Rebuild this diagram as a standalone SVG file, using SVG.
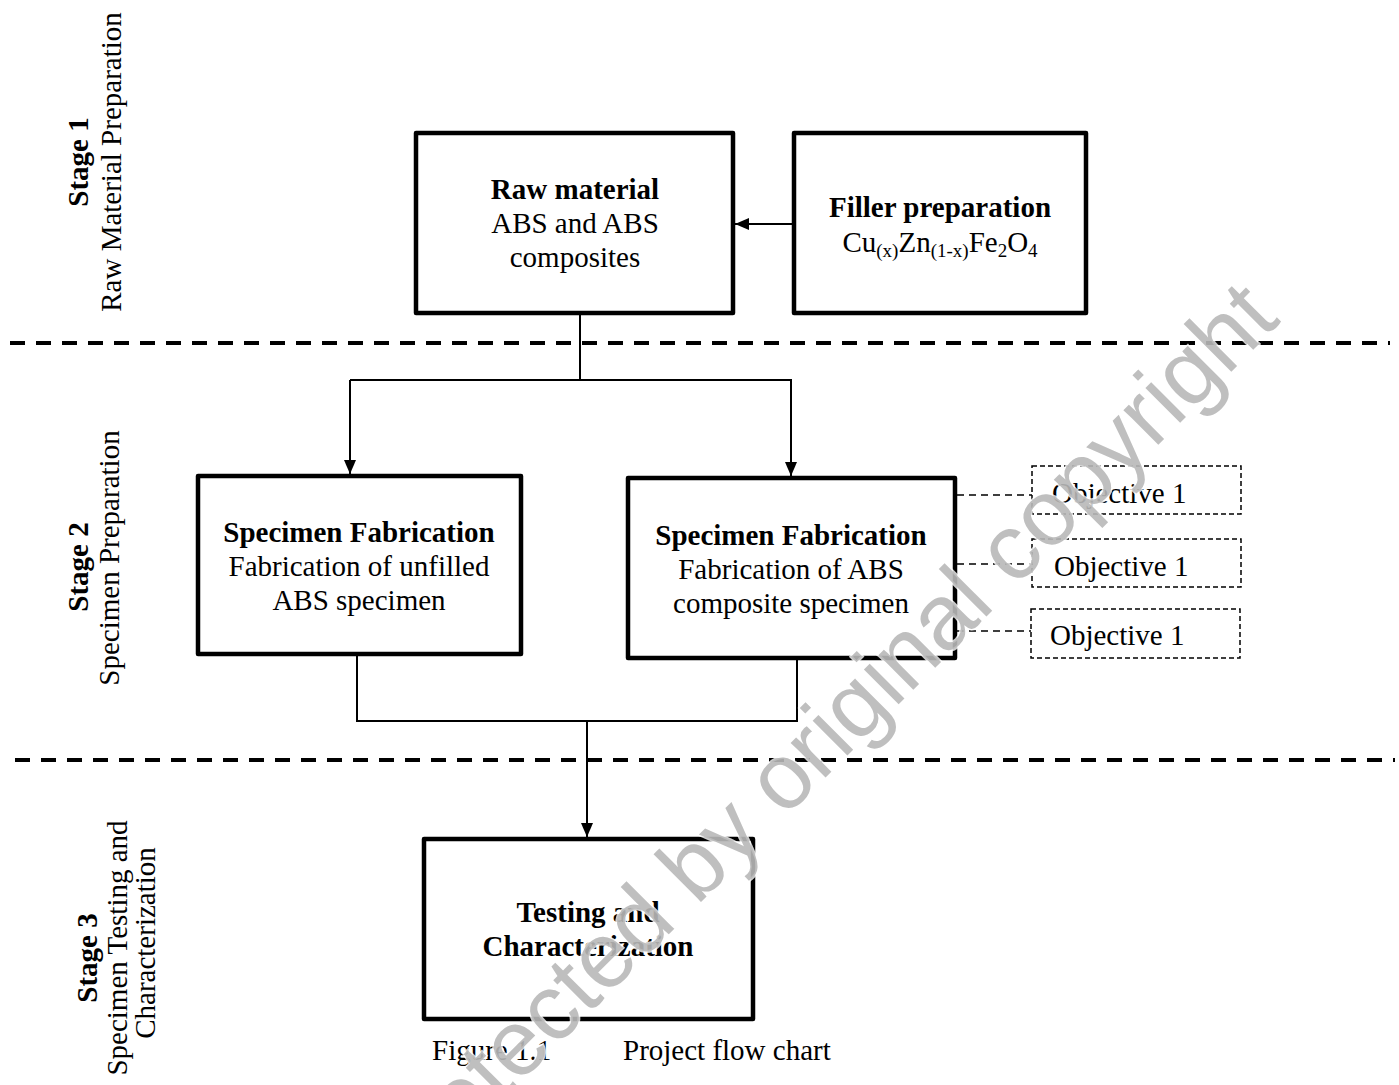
<svg xmlns="http://www.w3.org/2000/svg" width="1399" height="1085" viewBox="0 0 1399 1085">
<style>
text{font-family:"Liberation Serif","Times New Roman",serif;font-size:29px;fill:#000}
.b{font-weight:bold}
.box{fill:#fff;stroke:#000;stroke-width:4.5;stroke-linejoin:round}
.obj{fill:#fff;stroke:#000;stroke-width:1.5;stroke-dasharray:5 3}
.con{fill:none;stroke:#000;stroke-width:2}
.dcon{fill:none;stroke:#000;stroke-width:1.5;stroke-dasharray:7 5}
.sep{fill:none;stroke:#000;stroke-width:4;stroke-dasharray:15 11}
.sub{font-size:19px}
.wm{font-family:"Liberation Sans",Arial,sans-serif;font-size:93px;fill:#b8b8b8;fill-opacity:0.9;stroke:#fff;stroke-width:3;stroke-opacity:0.8;paint-order:stroke}
</style>
<defs>
<marker id="ah" viewBox="0 0 14 12" refX="14" refY="6" markerWidth="14" markerHeight="12" markerUnits="userSpaceOnUse" orient="auto">
<path d="M0,0 L14,6 L0,12 Z" fill="#000"/>
</marker>
</defs>
<rect width="1399" height="1085" fill="#fff"/>

<g id="separators">
<line class="sep" x1="10" y1="343" x2="1390" y2="343"/>
<line class="sep" x1="15" y1="760" x2="1395" y2="760"/>
</g>

<g id="stage-labels">
<text class="b" text-anchor="middle" transform="translate(88,162) rotate(-90)">Stage 1</text>
<text text-anchor="middle" transform="translate(121,162) rotate(-90)">Raw Material Preparation</text>
<text class="b" text-anchor="middle" transform="translate(88,567) rotate(-90)">Stage 2</text>
<text text-anchor="middle" transform="translate(119,558) rotate(-90)">Specimen  Preparation</text>
<text class="b" text-anchor="middle" transform="translate(97,958) rotate(-90)">Stage 3</text>
<text text-anchor="middle" transform="translate(127,948) rotate(-90)">Specimen Testing and</text>
<text text-anchor="middle" transform="translate(155,943) rotate(-90)">Characterization</text>
</g>

<g id="connectors">
<line class="con" x1="793" y1="224" x2="735" y2="224" marker-end="url(#ah)"/>
<polyline class="con" points="580,313 580,380"/>
<polyline class="con" points="350,380 792,380"/>
<line class="con" x1="350" y1="380" x2="350" y2="474" marker-end="url(#ah)"/>
<line class="con" x1="791" y1="380" x2="791" y2="476" marker-end="url(#ah)"/>
<polyline class="con" points="357,655 357,721 797,721 797,658"/>
<line class="con" x1="587" y1="721" x2="587" y2="837" marker-end="url(#ah)"/>
<line class="dcon" x1="957" y1="495" x2="1032" y2="495"/>
<line class="dcon" x1="957" y1="564" x2="1032" y2="564"/>
<line class="dcon" x1="957" y1="631" x2="1031" y2="631"/>
</g>

<g id="raw-material">
<rect class="box" x="416" y="133" width="317" height="180"/>
<text class="b" x="575" y="199" text-anchor="middle">Raw material</text>
<text x="575" y="233" text-anchor="middle">ABS and ABS</text>
<text x="575" y="267" text-anchor="middle">composites</text>
</g>

<g id="filler-preparation">
<rect class="box" x="794" y="133" width="292" height="180"/>
<text class="b" x="940" y="217" text-anchor="middle">Filler preparation</text>
<text x="940" y="252" text-anchor="middle">Cu<tspan class="sub" dy="5">(x)</tspan><tspan dy="-5">Zn</tspan><tspan class="sub" dy="5">(1-x)</tspan><tspan dy="-5">Fe</tspan><tspan class="sub" dy="5">2</tspan><tspan dy="-5">O</tspan><tspan class="sub" dy="5">4</tspan></text>
</g>

<g id="specimen-unfilled">
<rect class="box" x="198" y="476" width="323" height="178"/>
<text class="b" x="359" y="542" text-anchor="middle">Specimen Fabrication</text>
<text x="359" y="576" text-anchor="middle">Fabrication of unfilled</text>
<text x="359" y="610" text-anchor="middle">ABS specimen</text>
</g>

<g id="specimen-composite">
<rect class="box" x="628" y="478" width="327" height="180"/>
<text class="b" x="791" y="545" text-anchor="middle">Specimen Fabrication</text>
<text x="791" y="579" text-anchor="middle">Fabrication of ABS</text>
<text x="791" y="613" text-anchor="middle">composite specimen</text>
</g>

<g id="objective-1">
<rect class="obj" x="1032" y="466" width="209" height="48"/>
<text x="1052" y="503">Objective 1</text>
</g>
<g id="objective-2">
<rect class="obj" x="1032" y="539" width="209" height="48"/>
<text x="1054" y="576">Objective 1</text>
</g>
<g id="objective-3">
<rect class="obj" x="1031" y="609" width="209" height="49"/>
<text x="1050" y="645">Objective 1</text>
</g>

<g id="testing">
<rect class="box" x="424" y="839" width="329" height="180"/>
<text class="b" x="588" y="922" text-anchor="middle">Testing and</text>
<text class="b" x="588" y="956" text-anchor="middle">Characterization</text>
</g>

<g id="caption">
<text x="432" y="1060">Figure 1.1</text>
<text x="623" y="1060">Project flow chart</text>
</g>

<g id="watermark">
<text class="wm" text-anchor="middle" transform="translate(843,760) rotate(-45)">protected by original copyright</text>
</g>
</svg>
